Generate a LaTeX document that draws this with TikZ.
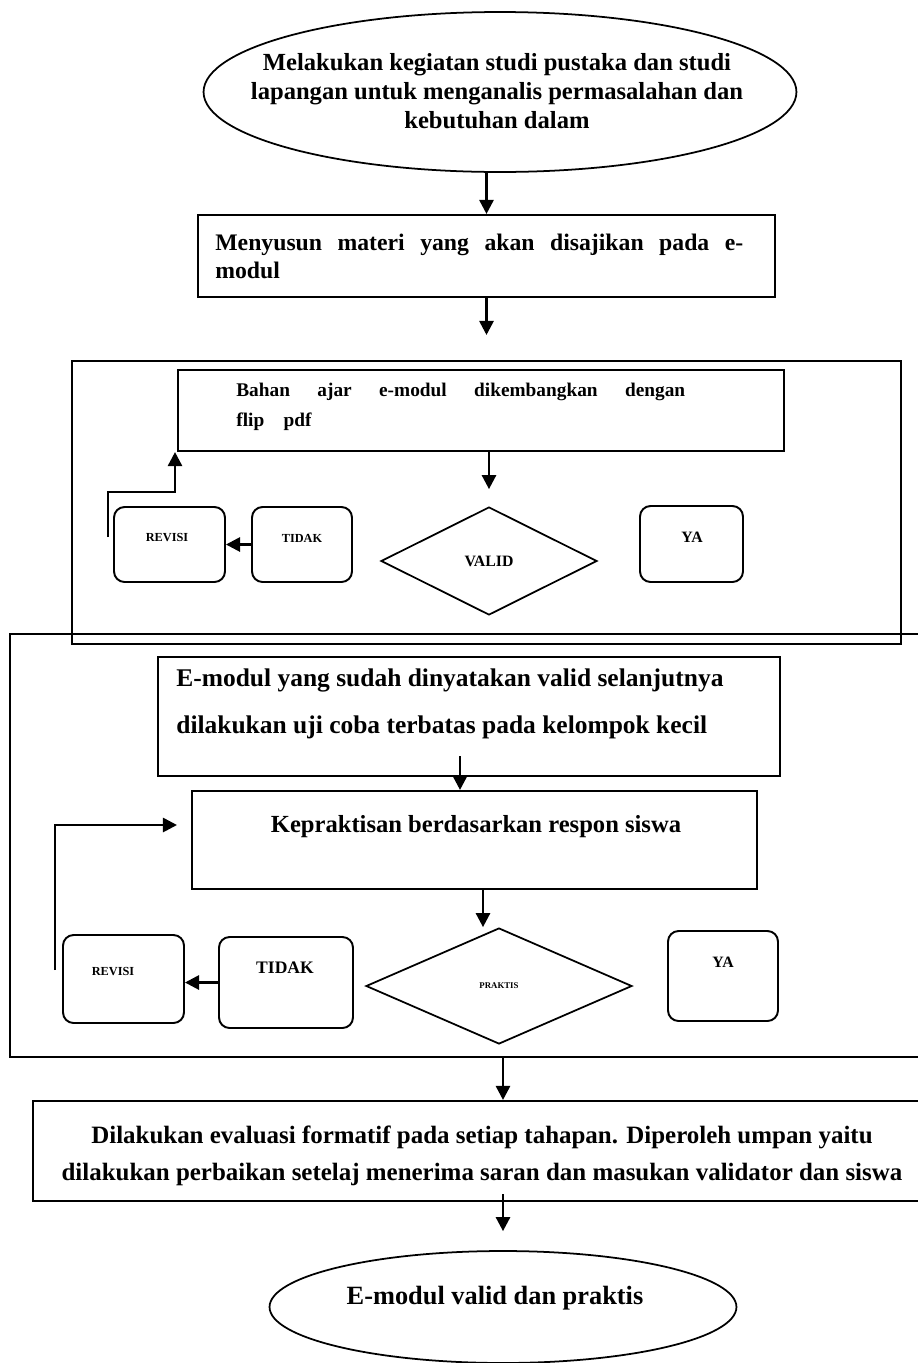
\documentclass[tikz,border=0pt]{standalone}
\usepackage{fontspec}
\setmainfont{Liberation Serif}
\usepackage{tikz}
\usetikzlibrary{shapes,arrows,positioning,calc}
\usetikzlibrary{shapes.geometric}
\usetikzlibrary{arrows.meta}

\begin{document}
\begin{tikzpicture}[
    x=0.02cm, y=-0.02cm,
    endpoint/.style={ellipse, draw, line width=1pt, inner sep=0pt},
    procbox/.style={rectangle, draw, line width=1.2pt, inner sep=0pt},
    framebox/.style={rectangle, draw, line width=1.4pt, inner sep=0pt},
    choice/.style={rectangle, rounded corners=6pt, draw, line width=1.1pt, inner sep=0pt},
    decision/.style={diamond, draw, line width=1pt, inner sep=0pt, font=\bfseries\small},
    txt/.style={font=\bfseries\fontsize{14}{16.5}\selectfont, inner sep=0pt},
    smalltxt/.style={font=\bfseries\scriptsize, inner sep=0pt},
    arrow/.style={-{Triangle[length=8pt,width=8pt]}, line width=1.5pt}
]
\useasboundingbox (0,0) rectangle (918,1363);

% Studi pendahuluan
\node[endpoint, minimum width=11.86cm, minimum height=3.2cm] (studi) at (500,92) {};
\node[txt, align=center] at (497,91) {Melakukan kegiatan studi pustaka dan studi\\lapangan untuk menganalis permasalahan dan\\kebutuhan dalam};

\node[procbox, minimum width=11.54cm, minimum height=1.64cm] (materi) at (486.5,256) {};
\node[txt, anchor=west, align=left, font=\bfseries\fontsize{13.5}{15.9}\selectfont] at (215,256)
    {\makebox[10.56cm][s]{Menyusun materi yang akan disajikan pada e-}\\modul};

\draw[arrow] (materi.north |- studi.south) -- (materi.north);
\coordinate (masukA) at (486.5,335);
\draw[arrow] (materi.south) -- (masukA);

% Tahap validasi
\node[framebox, minimum width=16.58cm, minimum height=5.66cm] (frameA) at (486.5,502.5) {};
\node[procbox, minimum width=12.12cm, minimum height=1.62cm] (bahan) at (481,410.5) {};
\node[txt, anchor=west, align=left, font=\bfseries\fontsize{11}{17}\selectfont] at (236,407)
    {\makebox[8.98cm][s]{Bahan ajar e-modul dikembangkan dengan}\\flip\quad pdf};

\node[decision, minimum width=4.32cm, minimum height=2.16cm] (valid) at (489,561) {VALID};
\node[choice, minimum width=2.22cm, minimum height=1.5cm] (revisiA) at (169.5,544.5) {};
\node[smalltxt] at (167,538) {REVISI};
\node[choice, minimum width=2cm, minimum height=1.5cm] (tidakA) at (302,544.5) {};
\node[smalltxt] at (302,538) {TIDAK};
\node[choice, minimum width=2.06cm, minimum height=1.52cm] (yaA) at (691.5,544) {};
\node[txt, font=\bfseries\small] at (692,537) {YA};

\draw[arrow, shorten >=0.34cm] (bahan.south -| valid.north) -- (valid.north);
\draw[arrow] (tidakA.west) -- (revisiA.east);
\coordinate (balikA) at (108,537);
\draw[arrow] (balikA) -- ++(0,-45) -| ([xshift=-0.04cm]bahan.south west);

% Tahap uji coba
\node[framebox, minimum width=18.24cm, minimum height=8.46cm] (frameB) at (466,845.5) {};
\node[procbox, minimum width=12.44cm, minimum height=2.38cm] (ujicoba) at (469,716.5) {};
\node[txt, anchor=west, align=left, font=\bfseries\fontsize{14.5}{27}\selectfont] at (176,704)
    {E-modul yang sudah dinyatakan valid selanjutnya\\dilakukan uji coba terbatas pada kelompok kecil};

\node[procbox, minimum width=11.3cm, minimum height=1.96cm] (praktik) at (474.5,840) {};
\node[txt] at (476,827) {Kepraktisan berdasarkan respon siswa};

\node[decision, minimum width=5.32cm, minimum height=2.32cm, font=\bfseries\tiny] (praktis) at (499,986) {PRAKTIS};
\node[choice, minimum width=2.42cm, minimum height=1.76cm] (revisiB) at (123.5,979) {};
\node[smalltxt] at (113,972) {REVISI};
\node[choice, minimum width=2.68cm, minimum height=1.82cm] (tidakB) at (286,982.5) {};
\node[txt, font=\bfseries\normalsize] at (285,968) {TIDAK};
\node[choice, minimum width=2.2cm, minimum height=1.8cm] (yaB) at (723,976) {};
\node[txt, font=\bfseries\small] at (723,962) {YA};

\draw[arrow] ([xshift=-0.18cm,yshift=0.42cm]ujicoba.south) -- ([xshift=-0.18cm]ujicoba.south |- praktik.north);
\draw[arrow] ([xshift=0.17cm]praktik.south) -- ([xshift=0.17cm]praktik.south |- praktis.north);
\draw[arrow] (tidakB.west) -- (revisiB.east |- tidakB.west);
\coordinate (balikB) at (55,970);
\draw[arrow] (balikB) |- ([xshift=-0.28cm,yshift=0.3cm]praktik.west);

% Evaluasi dan hasil akhir
\node[procbox, minimum width=17.78cm, minimum height=2cm] (evaluasi) at (477.5,1151) {};
\node[txt, align=center, font=\bfseries\fontsize{14.2}{21}\selectfont] at (482,1156)
    {Dilakukan evaluasi formatif pada setiap tahapan. Diperoleh umpan yaitu\\dilakukan perbaikan setelaj menerima saran dan masukan validator dan siswa};

\node[endpoint, minimum width=9.34cm, minimum height=2.24cm] (akhir) at (503,1307) {};
\node[txt, font=\bfseries\fontsize{15}{18}\selectfont] at (495,1298) {E-modul valid dan praktis};

\draw[arrow] (frameB.south -| akhir.north) -- (evaluasi.north -| akhir.north);
\draw[arrow, shorten >=0.38cm] ([yshift=0.16cm]evaluasi.south -| akhir.north) -- (akhir.north);

\end{tikzpicture}
\end{document}
